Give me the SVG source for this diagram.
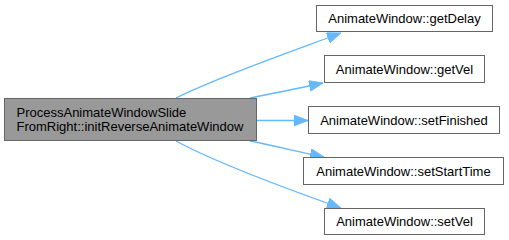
<svg xmlns="http://www.w3.org/2000/svg" width="509" height="240" viewBox="0 0 509 240">
  <style>
    .node rect { stroke: #666666; stroke-width: 1; }
    .main rect { fill: #999999; }
    .leaf rect { fill: #ffffff; }
    text { font-family: "Liberation Sans", Arial, Helvetica, sans-serif; font-size: 13px; fill: #000000; }
    .leaf text { text-anchor: middle; }
    .edge { fill: none; stroke: #63b8ff; stroke-width: 1.3; marker-end: url(#arrow); }
  </style>
  <defs>
    <marker id="arrow" markerUnits="userSpaceOnUse" markerWidth="16" markerHeight="12" refX="14" refY="5.5" orient="auto">
      <path d="M0,0 L14,5.5 L0,11 Z" fill="#63b8ff" stroke="#63b8ff" stroke-width="0.8"/>
    </marker>
  </defs>

  <!-- call edges -->
  <g id="edges">
    <path class="edge" d="M176,98 C215,78 290,52 341,33"/>
    <path class="edge" d="M250,98 C275,93 300,88 323,83"/>
    <path class="edge" d="M257,120.5 L308,120.5"/>
    <path class="edge" d="M250,141 C275,146 300,152 324,157"/>
    <path class="edge" d="M176,141 C215,162 290,190 341,208"/>
  </g>

  <!-- caller -->
  <g id="node1" class="node main">
    <rect x="4.5" y="98.5" width="252" height="42"/>
    <text x="16.5" y="116.5">ProcessAnimateWindowSlide</text>
    <text x="16.5" y="130.5">FromRight::initReverseAnimateWindow</text>
  </g>

  <!-- callees -->
  <g id="node2" class="node leaf">
    <rect x="316.5" y="5.5" width="176" height="26"/>
    <text x="404.5" y="23">AnimateWindow::getDelay</text>
  </g>
  <g id="node3" class="node leaf">
    <rect x="324.5" y="55.5" width="160" height="27"/>
    <text x="404.5" y="73.5">AnimateWindow::getVel</text>
  </g>
  <g id="node4" class="node leaf">
    <rect x="308.5" y="106.5" width="191" height="27"/>
    <text x="404" y="124.5">AnimateWindow::setFinished</text>
  </g>
  <g id="node5" class="node leaf">
    <rect x="303.5" y="157.5" width="200" height="27"/>
    <text x="403.5" y="175.5">AnimateWindow::setStartTime</text>
  </g>
  <g id="node6" class="node leaf">
    <rect x="324.5" y="208.5" width="160" height="26"/>
    <text x="404.5" y="226">AnimateWindow::setVel</text>
  </g>
</svg>
